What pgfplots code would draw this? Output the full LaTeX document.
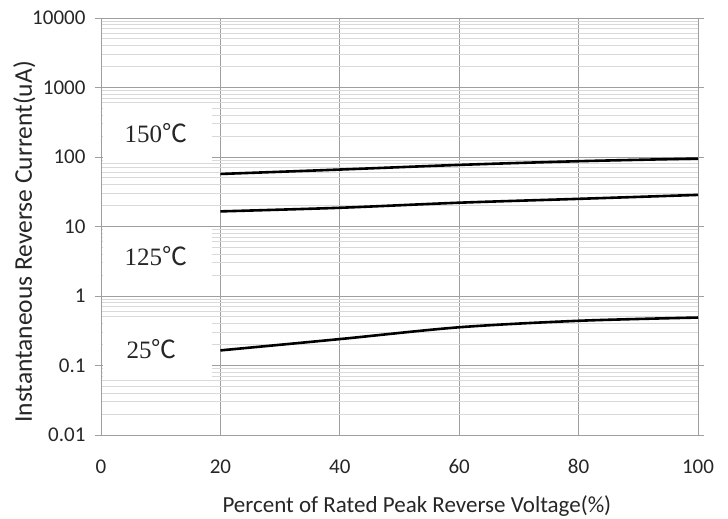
\documentclass[border=0pt]{standalone}
\usepackage{pgfplots}
\pgfplotsset{compat=1.18}
\usepackage{fontspec}
\setmainfont{Carlito}
\newfontfamily\serif{Liberation Serif}
\newfontfamily\cjk{Noto Sans CJK SC}
\usetikzlibrary{calc}

\newcommand{\degC}{{\cjk ℃}}

\begin{document}
\begin{tikzpicture}
\begin{axis}[
    scale only axis,
    width=597pt, height=417pt,
    ymode=log,
    xmin=0, xmax=100,
    ymin=0.01, ymax=10000,
    xtick={0,20,...,100},
    ytick={0.01,0.1,1,10,100,1000,10000},
    yticklabels={0.01,0.1,1,10,100,1000,10000},
    grid=both,
    major grid style={gray!75, line width=0.9pt},
    minor grid style={gray!30, line width=0.9pt},
    axis line style={gray!75, line width=0.9pt},
    tick align=outside,
    major tick length=6pt,
    minor tick length=0pt,
    xtick style={draw=none},
    ytick style={gray!75, line width=0.9pt},
    ticklabel style={font=\fontsize{21}{23}\selectfont, text=black!85},
    yticklabel style={xshift=-6pt},
    xticklabel style={yshift=-15pt},
    /pgf/number format/assume math mode=true,
    label style={text=black!85},
    xlabel={Percent of Rated Peak Reverse Voltage(\%)},
    ylabel={Instantaneous Reverse Current(uA)},
    xlabel style={font=\fontsize{23}{25}\selectfont, at={(axis description cs:0.529,0)}, anchor=base, yshift=-77pt},
    ylabel style={font=\fontsize{25.5}{27}\selectfont, at={(axis description cs:-0.1156,0.463)}, anchor=base},
]
% white label boxes
\fill[white] (axis cs:0.35,560) rectangle (axis cs:18.6,85);
\fill[white] (axis cs:0.35,9.6) rectangle (axis cs:18.6,1.08);
\fill[white] (axis cs:0.35,0.5) rectangle (axis cs:18.6,0.064);
\node[font=\serif\fontsize{25}{27}\selectfont, text=black!85] at (axis cs:9.2,220) {150\degC};
\node[font=\serif\fontsize{25}{27}\selectfont, text=black!85] at (axis cs:9.2,3.8) {125\degC};
\node[font=\serif\fontsize{25}{27}\selectfont, text=black!85] at (axis cs:8.5,0.17) {25\degC};

% 150 C
\addplot[black, line width=2.6pt, smooth] coordinates {
    (20,57) (40,66) (60,77) (80,87) (100,95)
};
% 125 C
\addplot[black, line width=2.6pt, smooth] coordinates {
    (20,16.5) (40,18.6) (60,22) (80,25) (100,28.5)
};
% 25 C
\addplot[black, line width=2.6pt, smooth] coordinates {
    (20,0.165) (40,0.24) (60,0.355) (80,0.44) (100,0.49)
};
\end{axis}
\pgfresetboundingbox
\path[use as bounding box] ($(current axis.south west)+(-101pt,-83pt)$) rectangle ($(current axis.north east)+(30pt,18pt)$);
\end{tikzpicture}
\end{document}
